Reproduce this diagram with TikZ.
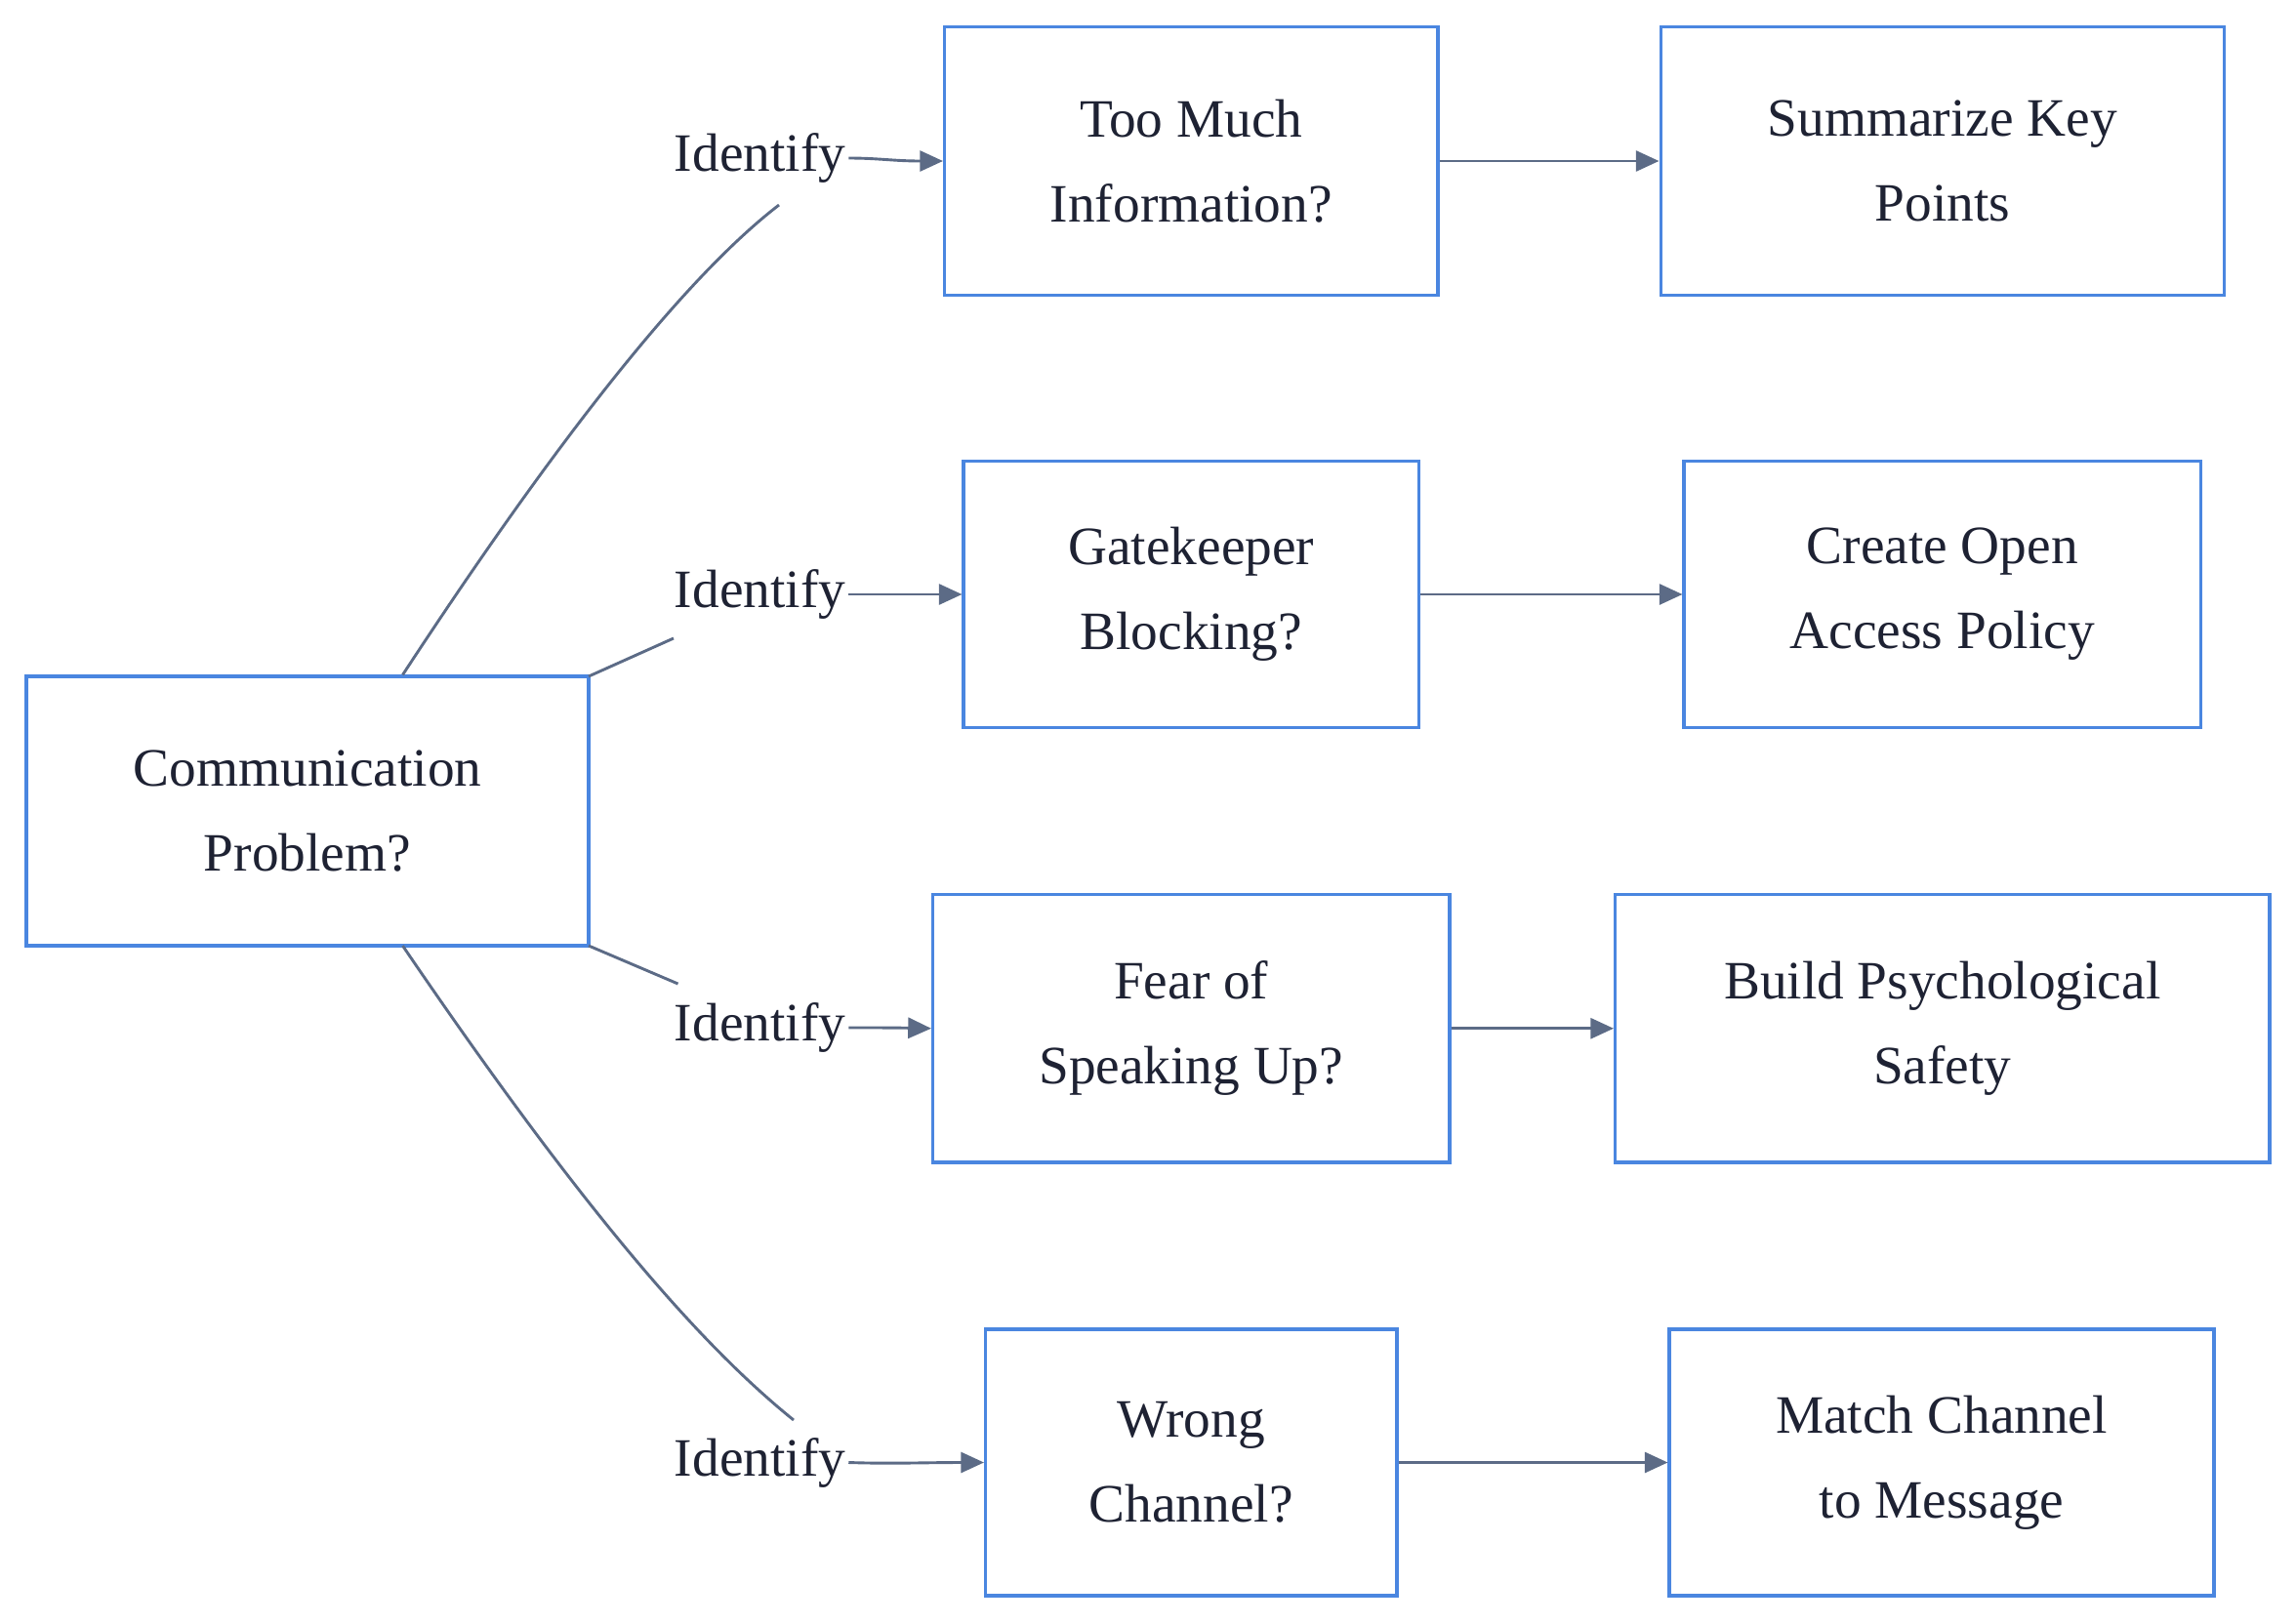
\documentclass[tikz,border=0pt]{standalone}
\usepackage{fontspec}
\setmainfont{Liberation Serif}
\usetikzlibrary{arrows.meta}
\definecolor{bx}{HTML}{4A86E0}
\definecolor{ln}{HTML}{5C6B86}
\definecolor{tx}{HTML}{1E2233}
\begin{document}
\begin{tikzpicture}[x=0.02cm,y=-0.02cm,
 box/.style={draw=bx,line width=1.2pt,fill=white,text=tx,align=center,font=\fontsize{21}{33}\selectfont,inner sep=0pt},
 lab/.style={text=tx,font=\fontsize{21}{25}\selectfont,inner sep=1pt},
 con/.style={draw=ln,line width=1.1pt},
 arr/.style={con,-{Triangle[length=9pt,width=8pt]}}]
\useasboundingbox (0,0) rectangle (1568,1109);
\node[box,minimum width=384\pgflinewidth*0+7.68cm,minimum height=3.68cm] (a) at (210,554) {Communication\\Problem?};
\node[box,minimum width=6.74cm,minimum height=3.66cm] (b1) at (813.5,110) {Too Much\\Information?};
\node[box,minimum width=7.7cm,minimum height=3.66cm] (c1) at (1326.5,110) {Summarize Key\\Points};
\node[box,minimum width=6.22cm,minimum height=3.64cm] (b2) at (813.5,406) {Gatekeeper\\Blocking?};
\node[box,minimum width=7.06cm,minimum height=3.64cm] (c2) at (1326.5,406) {Create Open\\Access Policy};
\node[box,minimum width=7.06cm,minimum height=3.66cm] (b3) at (813.5,702.5) {Fear of\\Speaking Up?};
\node[box,minimum width=8.94cm,minimum height=3.66cm] (c3) at (1326.5,702.5) {Build Psychological\\Safety};
\node[box,minimum width=5.62cm,minimum height=3.64cm] (b4) at (813.5,999) {Wrong\\Channel?};
\node[box,minimum width=7.44cm,minimum height=3.64cm] (c4) at (1326,999) {Match Channel\\to Message};
\node[lab] (l1) at (519,108) {Identify};
\node[lab] (l2) at (519,406) {Identify};
\node[lab] (l3) at (519,702) {Identify};
\node[lab] (l4) at (519,999) {Identify};
\coordinate (s1) at (532,140);
\coordinate (s2) at (460,436);
\coordinate (s3) at (463,672);
\coordinate (s4) at (542,970);
\draw[con] (a.north)++(65,0) coordinate (t1) .. controls (400,270) and (480,180) .. (s1);
\draw[con] (402,462) -- (s2);
\draw[con] (402,646) -- (s3);
\draw[con] (275,646) .. controls (400,830) and (480,920) .. (s4);
\draw[arr] (l1.east) .. controls (600,108) and (610,110) .. (b1.west);
\draw[arr] (l2.east) .. controls (600,406) and (610,406) .. (b2.west);
\draw[arr] (l3.east) .. controls (600,702) and (610,702) .. (b3.west);
\draw[arr] (l4.east) .. controls (610,1000) and (630,999) .. (b4.west);
\draw[arr] (b1) -- (c1);
\draw[arr] (b2) -- (c2);
\draw[arr] (b3) -- (c3);
\draw[arr] (b4) -- (c4);
\end{tikzpicture}
\end{document}
